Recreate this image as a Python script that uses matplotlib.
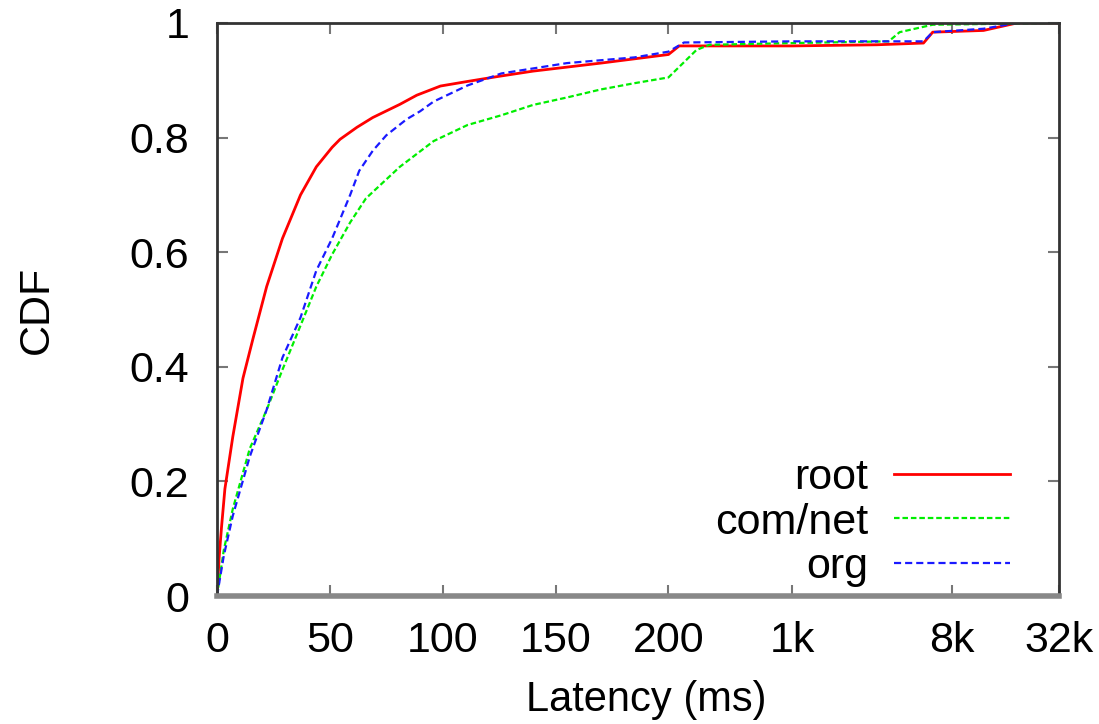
import numpy as np
import matplotlib
matplotlib.use("Agg")
import matplotlib.pyplot as plt
import matplotlib.ticker as mticker

# latency samples (ms) and CDF values per zone type
root_ms = [0, 1, 2, 3.5, 7, 11.5, 16, 22, 29, 37, 44, 51, 54.5, 62, 69, 81, 88.5, 99, 111,
           125, 140, 170, 200, 230, 500, 1000, 3000, 5500, 6200, 12000, 18500, 32000]
root_cdf = [0, 0.07, 0.12, 0.187, 0.278, 0.38, 0.45, 0.54, 0.624, 0.70, 0.749, 0.783, 0.797,
            0.818, 0.835, 0.858, 0.874, 0.89, 0.898, 0.907, 0.916, 0.93, 0.945, 0.96, 0.96,
            0.96, 0.962, 0.965, 0.984, 0.987, 1.0, 1.0]

comnet_ms = [0, 3, 7, 14.5, 22, 29, 37, 44, 51, 59, 66, 81, 96, 111, 126, 140, 155, 170, 185,
             200, 288, 341, 1000, 3500, 4036, 6200, 32000]
comnet_cdf = [0, 0.08, 0.152, 0.257, 0.325, 0.395, 0.472, 0.54, 0.596, 0.652, 0.694, 0.749,
              0.794, 0.822, 0.839, 0.857, 0.87, 0.884, 0.895, 0.905, 0.953, 0.962, 0.965,
              0.968, 0.984, 0.997, 1.0]

org_ms = [0, 3, 7, 14.5, 22, 29, 37, 44, 51, 59, 63, 69, 75, 84, 90, 96, 111, 126, 155, 185,
          200, 245, 1000, 5500, 6200, 12000, 18500, 32000]
org_cdf = [0, 0.07, 0.14, 0.243, 0.325, 0.416, 0.486, 0.568, 0.624, 0.70, 0.742, 0.777, 0.804,
           0.832, 0.846, 0.863, 0.891, 0.912, 0.93, 0.94, 0.95, 0.966, 0.968, 0.968, 0.984,
           0.99, 1.0, 1.0]

tick_vals = [0, 50, 100, 150, 200, 1000, 8000, 32000]
tick_labels = ["0", "50", "100", "150", "200", "1k", "8k", "32k"]

# linear up to 200 ms, logarithmic beyond
BREAK = 200.0
DECADE = 78.5


def fwd(x):
    x = np.asarray(x, dtype=float)
    return np.where(x <= BREAK, x, BREAK + DECADE * np.log10(np.maximum(x, BREAK) / BREAK))


def inv(u):
    u = np.asarray(u, dtype=float)
    return np.where(u <= BREAK, u, BREAK * 10 ** ((np.maximum(u, BREAK) - BREAK) / DECADE))


plt.rcParams.update({
    "font.family": "Liberation Sans",
    "font.size": 31,
})

fig = plt.figure(figsize=(10.99, 7.24), dpi=100)
ax = fig.add_axes([217 / 1099, 1 - 596 / 724, (1059 - 217) / 1099, (596 - 23) / 724])
ax.set_xscale("function", functions=(fwd, inv))

ax.plot(root_ms, root_cdf, color="#ff0000", lw=2.0, label="root")
ax.plot(comnet_ms, comnet_cdf, color="#00ee00", lw=1.6, ls=(0, (2.5, 1.3)), label="com/net")
ax.plot(org_ms, org_cdf, color="#1a1aff", lw=1.6, ls=(0, (3.2, 1.8)), label="org")

ax.set_xlim(0, 32000)
ax.set_ylim(0, 1)
ax.xaxis.set_major_locator(mticker.FixedLocator(tick_vals))
ax.xaxis.set_major_formatter(mticker.FixedFormatter(tick_labels))
ax.xaxis.set_minor_locator(mticker.NullLocator())
ax.set_yticks([0, 0.2, 0.4, 0.6, 0.8, 1])
ax.set_yticklabels(["0", "0.2", "0.4", "0.6", "0.8", "1"])

ax.tick_params(direction="in", length=8, width=1.5, color="#777777",
               top=True, right=True)
ax.tick_params(axis="y", pad=20)
ax.tick_params(axis="x", pad=18)

for side in ["left", "top", "right"]:
    ax.spines[side].set_color("#333333")
    ax.spines[side].set_linewidth(2)
ax.spines["bottom"].set_color("#888888")
ax.spines["bottom"].set_linewidth(4)

ax.set_xlabel("Latency (ms)", va="center", fontsize=30)
ax.xaxis.set_label_coords(0.51, -0.1815)
ax.set_ylabel("CDF", va="center")
ax.yaxis.set_label_coords(-0.214, 0.5)

ax.legend(loc="lower right", frameon=False, markerfirst=False, handlelength=2.7,
          handletextpad=0.6, labelspacing=0.1, borderaxespad=0, borderpad=0,
          bbox_to_anchor=(0.942, 0.016))

fig.savefig("out.png", dpi=100)
